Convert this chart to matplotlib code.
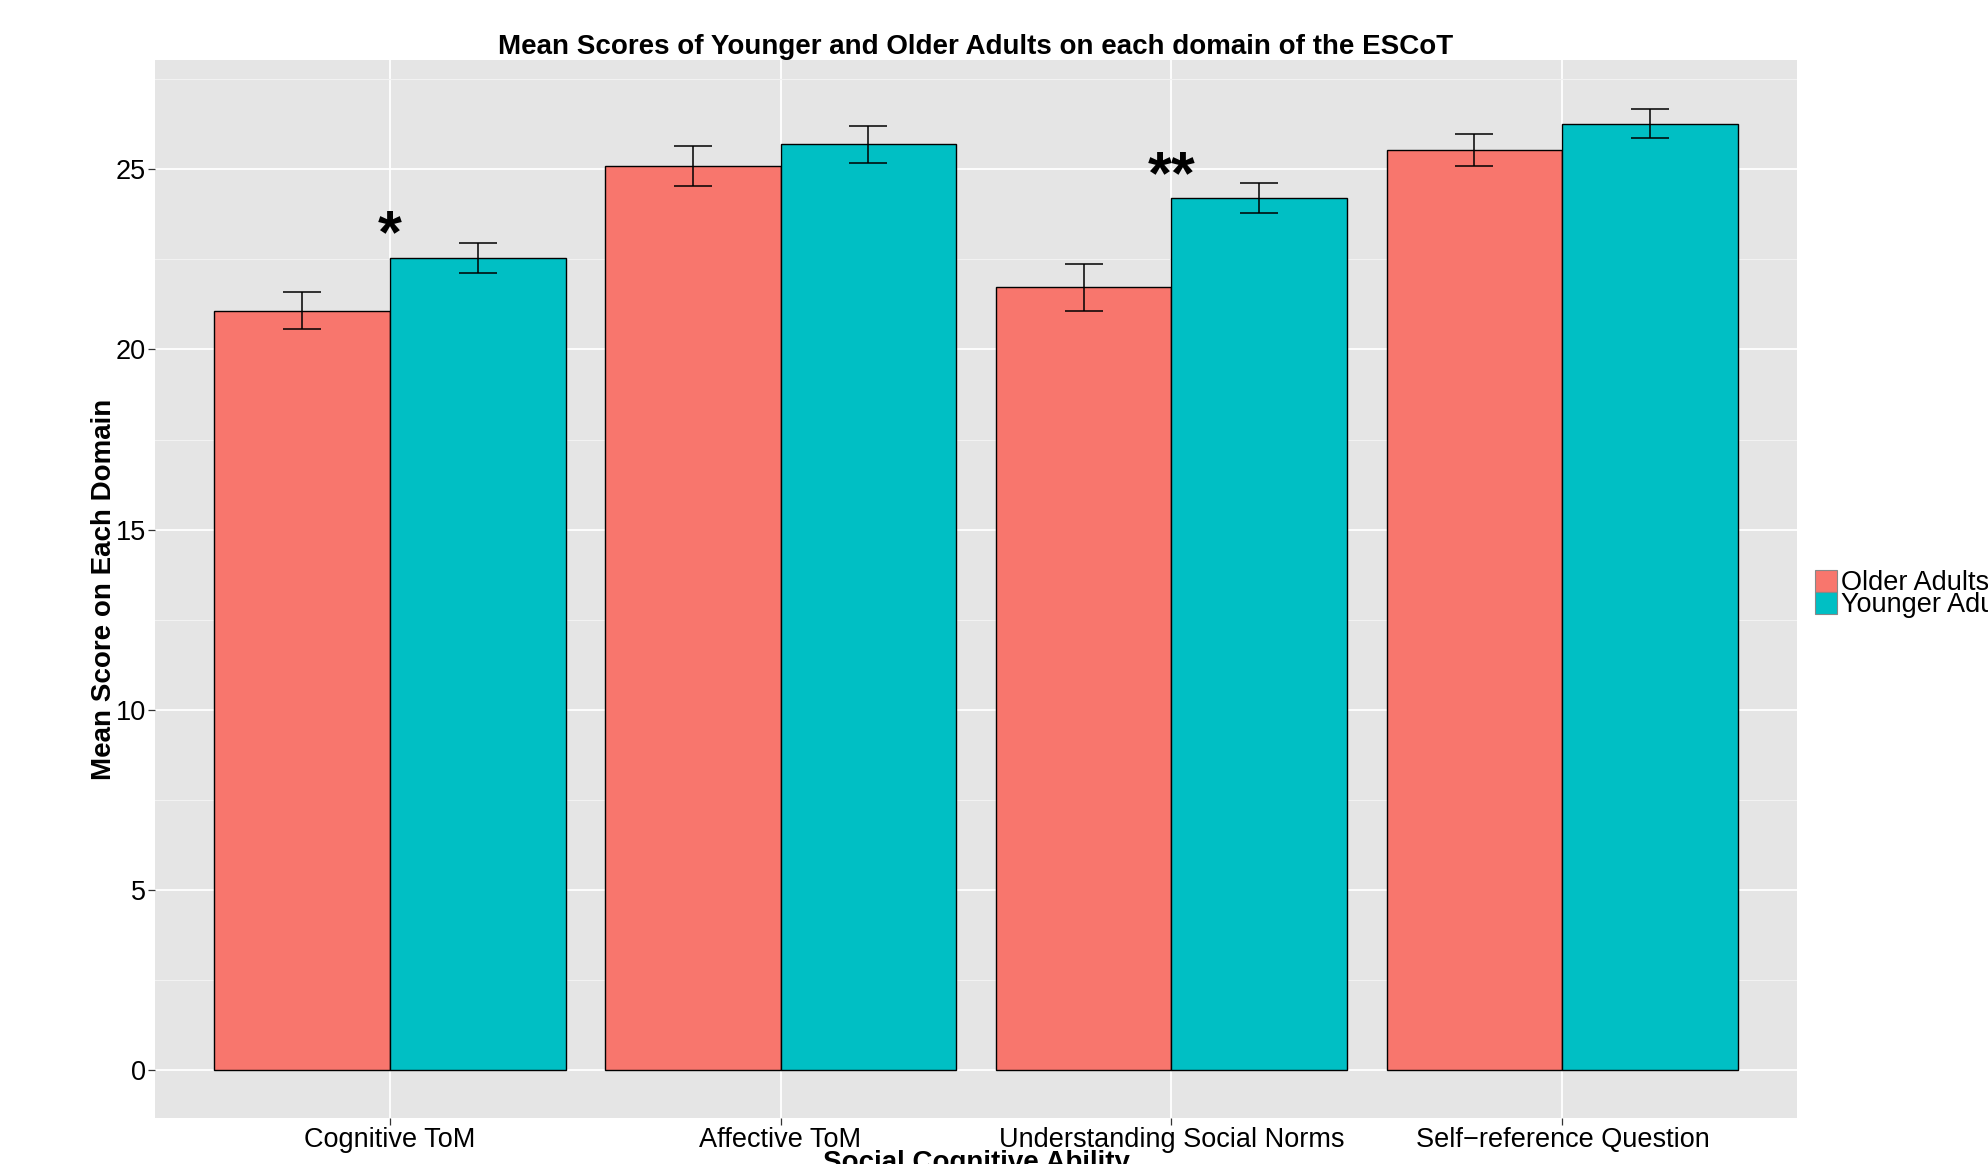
import matplotlib
matplotlib.use("Agg")
import matplotlib.pyplot as plt
from matplotlib.patches import Rectangle
import numpy as np

plt.rcParams['font.family'] = ['Liberation Sans', 'DejaVu Sans']

# ---- data ----
categories = ["Cognitive ToM", "Affective ToM", "Understanding Social Norms", "Self\u2212reference Question"]
groups = ["Older Adults", "Younger Adults"]
older_mean = [21.07, 25.09, 21.72, 25.53]
older_se = [0.51, 0.545, 0.655, 0.44]
younger_mean = [22.54, 25.69, 24.19, 26.26]
younger_se = [0.41, 0.52, 0.415, 0.405]
sig_labels = ["*", "", "**", ""]
y_ticks = [0, 5, 10, 15, 20, 25]

colors = ["#F8766D", "#00BFC4"]

W, H = 1988, 1164
fig = plt.figure(figsize=(W / 100, H / 100), dpi=100)
ax_l, ax_r, ax_t, ax_b = 155, 1797, 60, 1118.3
ax = fig.add_axes([ax_l / W, 1 - ax_b / H, (ax_r - ax_l) / W, (ax_b - ax_t) / H])

ax.set_facecolor("#E5E5E5")
for s in ax.spines.values():
    s.set_visible(False)

x = np.arange(1, len(categories) + 1)
bw = 0.45
means = [older_mean, younger_mean]
ses = [older_se, younger_se]
offsets = [-bw / 2, bw / 2]

# grid
ax.set_yticks(y_ticks)
ax.set_yticks([2.5, 7.5, 12.5, 17.5, 22.5, 27.5], minor=True)
ax.set_xticks(x)
ax.set_xticklabels(categories)
ax.grid(which="major", color="white", linewidth=1.3)
ax.grid(which="minor", axis="y", color="#F2F2F2", linewidth=0.8)
ax.set_axisbelow(True)

for gi in range(2):
    ax.bar(x + offsets[gi], means[gi], width=bw, color=colors[gi],
           edgecolor="black", linewidth=1.0, zorder=2)
    ax.errorbar(x + offsets[gi], means[gi], yerr=ses[gi], fmt="none",
                ecolor="black", elinewidth=1.1, capsize=14, capthick=1.1, zorder=3)

# significance stars
for i, lab in enumerate(sig_labels):
    if lab:
        top = max(older_mean[i] + older_se[i], younger_mean[i] + younger_se[i])
        ax.text(x[i], top + 0.35, lab, ha="center", va="center_baseline",
                fontsize=44, fontweight="bold", zorder=4)

ax.set_xlim(0.4, 4.6)
ax.set_ylim(-1.332, 28.03)

ax.tick_params(axis="both", which="major", length=5, width=0.9, color="#333333",
               labelsize=19.5, labelcolor="black")
ax.tick_params(axis="y", which="minor", length=0)
ax.tick_params(axis="y", pad=1.5)
ax.tick_params(axis="x", pad=1)

ax.set_title("Mean Scores of Younger and Older Adults on each domain of the ESCoT",
             fontsize=20, fontweight="bold", pad=2)
ax.set_ylabel("Mean Score on Each Domain", fontsize=20, fontweight="bold")
ax.yaxis.label.set_va("center")
ax.yaxis.set_label_coords((104 - ax_l) / (ax_r - ax_l), 0.5)
ax.set_xlabel("Social Cognitive Ability", fontsize=20, fontweight="bold")
ax.xaxis.label.set_va("top")
ax.xaxis.set_label_coords(0.5, -(1150 - ax_b) / (ax_b - ax_t))

# legend (manual, ggplot style, no title)
key = 22
lx, ly = 1815, 570
for gi, g in enumerate(groups):
    y_top = ly + gi * key
    fig.add_artist(Rectangle((lx / W, 1 - (y_top + key) / H), key / W, key / H,
                             transform=fig.transFigure, facecolor=colors[gi],
                             edgecolor="#888888", linewidth=0.8))
    fig.text((lx + key + 4) / W, 1 - (y_top + 20) / H, g, fontsize=19.5,
             ha="left", va="baseline")

fig.savefig("out.png", dpi=100, facecolor="white")
